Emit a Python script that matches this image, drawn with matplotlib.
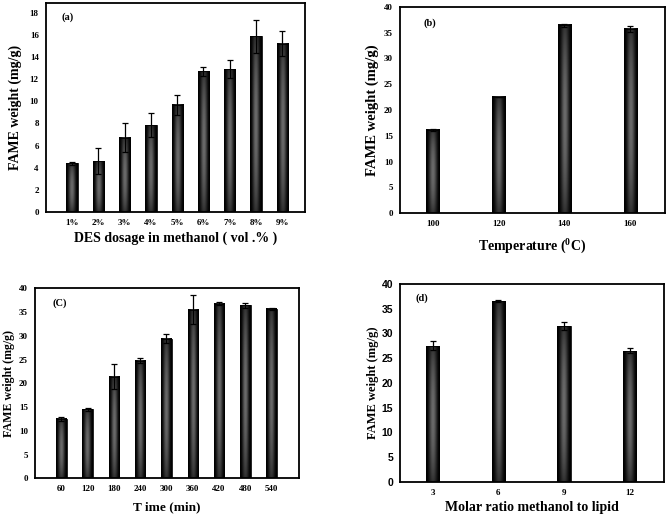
import numpy as np
import matplotlib
matplotlib.use("Agg")
import matplotlib.pyplot as plt

plt.rcParams['font.family'] = ['Liberation Serif', 'DejaVu Serif']
plt.rcParams['font.weight'] = 'bold'
plt.rcParams['mathtext.fontset'] = 'custom'
plt.rcParams['mathtext.rm'] = 'Liberation Serif:bold'
plt.rcParams['mathtext.bf'] = 'Liberation Serif:bold'

# ---- data ----
a_labels = ["1%", "2%", "3%", "4%", "5%", "6%", "7%", "8%", "9%"]
a_values = [4.4, 4.6, 6.7, 7.85, 9.7, 12.7, 12.9, 15.85, 15.2]
a_errors = [0.15, 1.15, 1.3, 1.05, 0.9, 0.4, 0.8, 1.45, 1.1]

b_labels = ["100", "120", "140", "160"]
b_values = [16.1, 22.5, 36.4, 35.7]
b_errors = [0.15, 0.0, 0.3, 0.55]

c_labels = ["60", "120", "180", "240", "300", "360", "420", "480", "540"]
c_values = [12.5, 14.5, 21.4, 24.8, 29.4, 35.5, 36.8, 36.4, 35.6]
c_errors = [0.4, 0.4, 2.7, 0.5, 1.0, 3.0, 0.4, 0.6, 0.2]

d_labels = ["3", "6", "9", "12"]
d_values = [27.5, 36.6, 31.5, 26.5]
d_errors = [0.9, 0.2, 0.9, 0.5]

W, H = 667, 518
fig = plt.figure(figsize=(W / 100, H / 100), dpi=100)


def rect(l, t, r, b):
    return [l / W, 1 - b / H, (r - l) / W, (b - t) / H]


# gradient image: dark edges, lighter centre (cylinder shading)
gx = np.linspace(0, 1, 60)
gy = np.linspace(0, 1, 120)
hx = np.sin(np.pi * gx) ** 2.2
vy = 0.45 + 0.55 * np.sin(np.pi * gy) ** 0.8
grad = 0.42 * np.outer(vy, hx)


def panel(box, labels, values, errors, pos, width, xlim, ylim, yticks,
          tag, tagxy, xlabel, xlabely, xlabelsize, ylabelx, ylabelsize,
          ytick_family=None, yticksize=6.5):
    ax = fig.add_axes(rect(*box))
    bars = ax.bar(pos, values, width=width, facecolor='none',
                  edgecolor='black', linewidth=0.6, zorder=2)
    for bar in bars:
        x0, w, h = bar.get_x(), bar.get_width(), bar.get_height()
        ax.imshow(grad, extent=(x0, x0 + w, 0, h), origin='lower',
                  cmap='gray', vmin=0, vmax=1, aspect='auto',
                  interpolation='bilinear', zorder=1)
    ax.errorbar(pos, values, yerr=errors, fmt='none', ecolor='black',
                elinewidth=0.9, capsize=2.5, capthick=0.9, zorder=3)
    ax.set_xlim(*xlim)
    ax.set_ylim(*ylim)
    ax.set_yticks(yticks)
    ax.set_xticks(pos)
    ax.set_xticklabels(labels, fontsize=6.5, fontweight='bold')
    ax.set_yticklabels([str(v) for v in yticks], fontsize=yticksize,
                       fontweight='bold',
                       family=ytick_family if ytick_family else None)
    ax.tick_params(length=0, pad=5)
    for s in ax.spines.values():
        s.set_linewidth(1.3)
    ax.set_aspect('auto')
    fig.text(tagxy[0] / W, 1 - tagxy[1] / H, tag, fontsize=7.5,
             fontweight='bold', ha='center', va='center')
    cx = (box[0] + box[2]) / 2
    fig.text(cx / W, 1 - xlabely / H, xlabel, fontsize=xlabelsize,
             fontweight='bold', ha='center', va='center')
    cy = (box[1] + box[3]) / 2
    fig.text(ylabelx / W, 1 - cy / H, "FAME weight (mg/g)",
             fontsize=ylabelsize, fontweight='bold', ha='center',
             va='center', rotation=90)
    return ax


pa = np.arange(1, len(a_labels) + 1)
panel((45.7, 2.7, 305, 212), a_labels, a_values, a_errors, pa, 0.43,
      (0, 9.86), (0, 18.9), list(range(0, 19, 2)), "(a)", (68, 17),
      "DES dosage in methanol ( vol .% )", 238, 10, 15, 10)

pb = np.arange(len(b_labels))
panel((400, 6.7, 665, 213.3), b_labels, b_values, b_errors, pb, 0.2,
      (-0.5, 3.53), (0, 40), list(range(0, 41, 5)), "(b)", (430, 22.7),
      "Temperature ($^0$C)", 246, 10, 372, 10.5)

pc = np.arange(1, len(c_labels) + 1)
panel((35, 288.3, 299, 478.3), c_labels, c_values, c_errors, pc, 0.4,
      (0, 10.04), (0, 40), list(range(0, 41, 5)), "(C)", (60, 302.7),
      "T ime (min)", 507.7, 9.5, 9, 8.6)

pd_ = np.arange(len(d_labels))
panel((400, 284, 664.3, 481.7), d_labels, d_values, d_errors, pd_, 0.2,
      (-0.5, 3.53), (0, 40), list(range(0, 41, 5)), "(d)", (421.7, 297.7),
      "Molar ratio methanol to lipid", 508, 10, 373, 9,
      ytick_family=['Liberation Sans', 'DejaVu Sans'], yticksize=7.5)

fig.savefig("out.png", dpi=100)
